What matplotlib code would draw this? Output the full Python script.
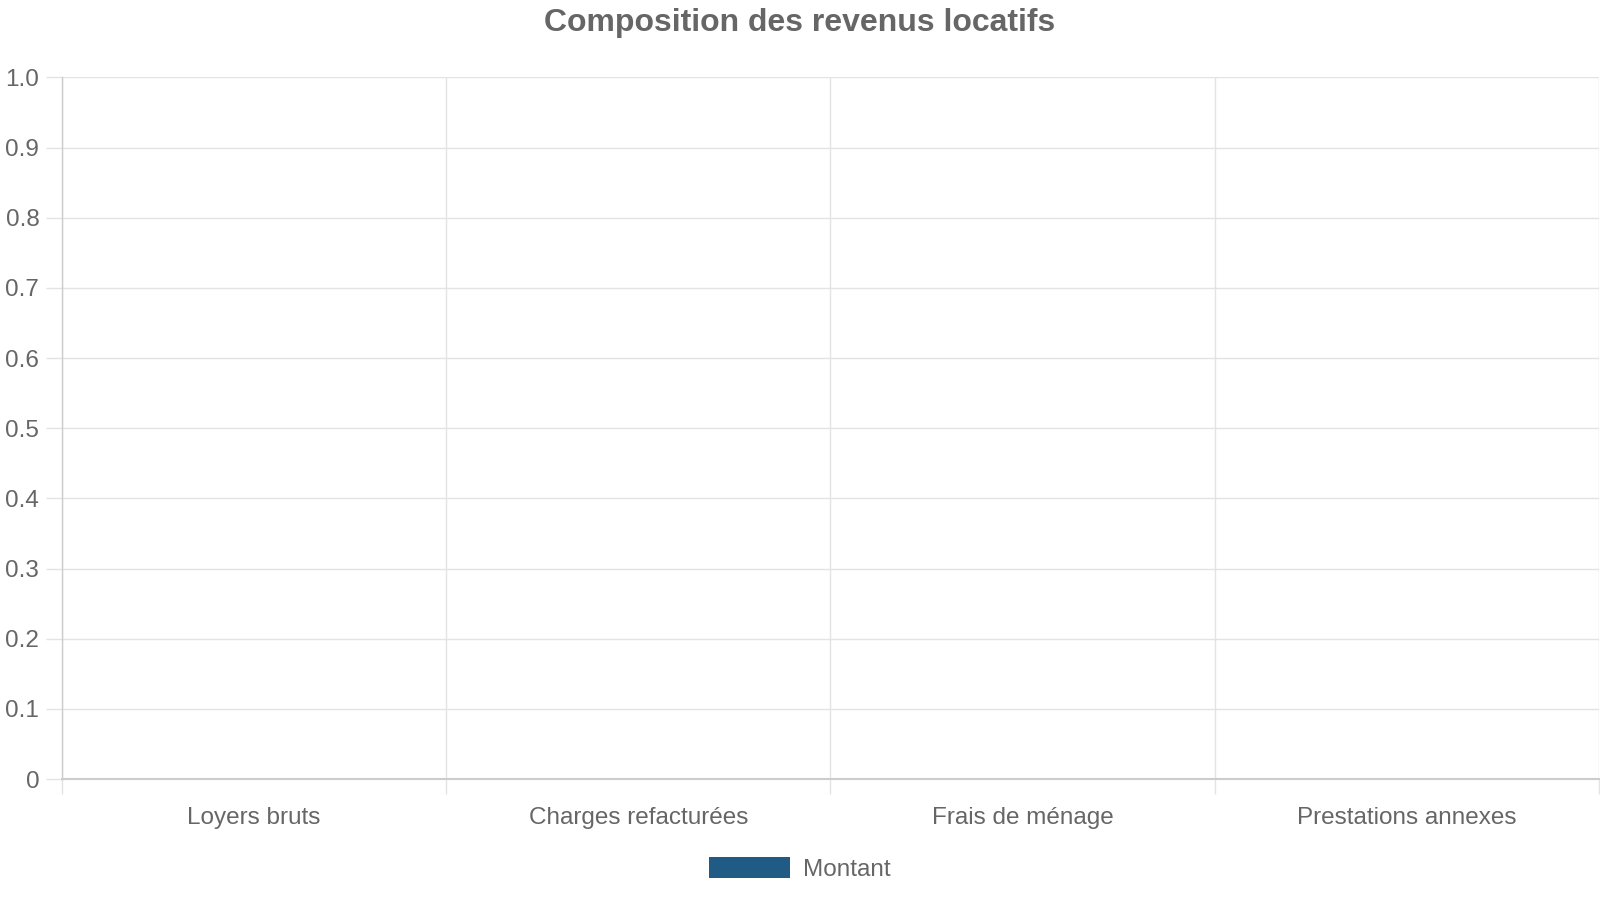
import matplotlib.pyplot as plt
from matplotlib.patches import Patch
from matplotlib.ticker import FixedLocator, FuncFormatter

categories = ['Loyers bruts', 'Charges refacturées', 'Frais de ménage', 'Prestations annexes']
montant = [0, 0, 0, 0]
series_name = 'Montant'
title = 'Composition des revenus locatifs'

bar_color = '#1f5b85'
text_color = '#666666'
grid_color = '#e3e3e3'
axis_color = '#cccccc'

plt.rcParams['font.family'] = ['Liberation Sans', 'DejaVu Sans']

fig = plt.figure(figsize=(16, 9), dpi=100)
ax = fig.add_axes([62 / 1600, 1 - 779 / 900, 1537 / 1600, (779 - 77.5) / 900])

x = list(range(len(categories)))
ax.bar(x, montant, width=0.6, color=bar_color)

ax.set_xlim(-0.5, len(categories) - 0.5)
ax.set_ylim(0, 1.0)

ax.set_xticks(x)
ax.set_xticklabels(categories)
ax.xaxis.set_minor_locator(FixedLocator([i - 0.5 for i in range(len(categories) + 1)]))
ax.set_yticks([i / 10 for i in range(11)])
ax.yaxis.set_major_formatter(FuncFormatter(lambda v, p: '0' if v == 0 else f'{v:.1f}'))

ax.tick_params(axis='x', which='major', length=0, pad=20.5, labelsize=17.5, labelcolor=text_color)
ax.tick_params(axis='x', which='minor', length=11, width=1, color=grid_color)
ax.tick_params(axis='y', length=11.5, width=1, color=grid_color, pad=4.8, labelsize=17.5, labelcolor=text_color)

ax.grid(axis='y', color=grid_color, linewidth=1)
ax.grid(axis='x', which='minor', color=grid_color, linewidth=1)
ax.set_axisbelow(True)

for s in ['top', 'right']:
    ax.spines[s].set_visible(False)
ax.spines['left'].set_color(axis_color)
ax.spines['left'].set_linewidth(1)
ax.spines['bottom'].set_color(axis_color)
ax.spines['bottom'].set_linewidth(1.5)

fig.text(0.5, 1 - 22.5 / 900, title, ha='center', va='center', fontsize=23,
         fontweight='bold', color=text_color)

handle = Patch(facecolor=bar_color, edgecolor='none')
leg = fig.legend([handle], [series_name], loc='center', bbox_to_anchor=(800 / 1600, 1 - 869 / 900),
                 frameon=False, fontsize=17.5, handlelength=3.3, handleheight=0.95, handletextpad=0.55)
for t in leg.get_texts():
    t.set_color(text_color)

fig.savefig('out.png', dpi=100, facecolor='white')
